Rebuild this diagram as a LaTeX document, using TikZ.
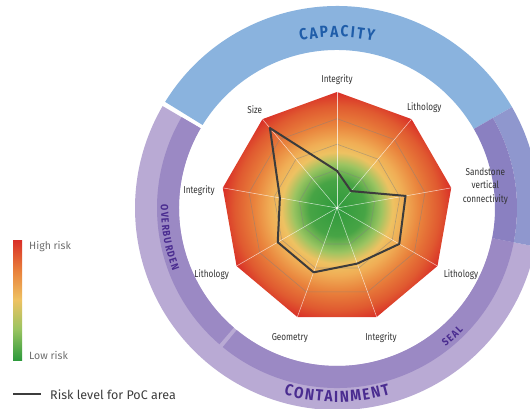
\documentclass[tikz,border=0pt]{standalone}
\usepackage{fontspec}
\usetikzlibrary{decorations.text}
\newfontfamily\axisfont[FakeStretch=0.82]{Fira Sans}
\newfontfamily\ringfont[FakeStretch=0.86]{Fira Sans}
\newfontfamily\keyfont{Fira Sans}
\definecolor{capblue}{HTML}{8AB3DE}
\definecolor{captext}{HTML}{1F5DA9}
\definecolor{lightlilac}{HTML}{B9AAD4}
\definecolor{darklilac}{HTML}{9B89C4}
\definecolor{mixouter}{HTML}{8F97CE}
\definecolor{mixinner}{HTML}{8A80C1}
\definecolor{lilactext}{HTML}{4A2C90}
\definecolor{riskgreen}{HTML}{2E9A3C}
\definecolor{riskgreenb}{HTML}{47A445}
\definecolor{riskolive}{HTML}{9BC461}
\definecolor{riskyellow}{HTML}{EEC262}
\definecolor{riskamber}{HTML}{F0AD55}
\definecolor{riskorange}{HTML}{E9823C}
\definecolor{riskdeep}{HTML}{E05A30}
\definecolor{riskred}{HTML}{D92E27}
\definecolor{labelgray}{HTML}{333333}
\definecolor{keygray}{HTML}{6E6E6E}
\definecolor{linegray}{HTML}{3C3C3C}

\pgfdeclareradialshading{riskfield}{\pgfpointorigin}{%
  color(0bp)=(riskgreen); color(6bp)=(riskgreenb); color(9.5bp)=(riskolive);
  color(12bp)=(riskyellow); color(14.5bp)=(riskamber); color(18bp)=(riskorange);
  color(22bp)=(riskdeep); color(25bp)=(riskred); color(50bp)=(riskred)}
\pgfdeclareverticalshading{riskbar}{100bp}{%
  color(0bp)=(riskgreen); color(25bp)=(riskgreen); color(38bp)=(riskolive);
  color(50bp)=(riskyellow); color(62bp)=(riskorange); color(75bp)=(riskred);
  color(100bp)=(riskred)}

% annular sector: colour, start, end, inner radius, outer radius
\newcommand\ringpart[5]{%
  \fill[#1] (#2:#4) arc[start angle=#2, end angle=#3, radius=#4]
    -- (#3:#5) arc[start angle=#3, end angle=#2, radius=#5] -- cycle;}

\begin{document}
\begin{tikzpicture}
      [x = 1pt, y = 1pt,
      axislabel/.style= {
         font = \axisfont\fontsize{10}{13.5}\selectfont,
         text = labelgray,
         align = center,
         inner sep = 0pt
      },
      keylabel/.style= {
         font = \keyfont\fontsize{10.5}{12}\selectfont,
         text = keygray,
         anchor = west,
         inner sep = 0pt
      },
      gridline/.style= {gray, opacity = 0.5, line width = 0.6pt},
      spoke/.style= {white, opacity = 0.7, line width = 0.5pt},
      riskline/.style= {linegray, line width = 2pt, line join = round}]
      \useasboundingbox (0, 0) rectangle (530, -409);
      \clip (0, 0) rectangle (530, -409);

      \pgfmathsetmacro{\R}{116}

      \begin{scope}[shift = {(337, -208)}]
         % outer rings
         \ringpart{capblue}{30}{148.3}{158}{202}
         \ringpart{lightlilac}{149.7}{349}{158}{202}
         \ringpart{darklilac}{149.7}{229.2}{158}{180}
         \ringpart{darklilac}{230.6}{349}{158}{180}
         \ringpart{mixouter}{-11}{30}{180}{202}
         \ringpart{mixinner}{-11}{30}{158}{180}

         \path[decorate, decoration = {text along path, text align = center,
            text color = captext,
            text = {|\ringfont\bfseries\fontsize{16}{16}\selectfont|{C\kern2pt}{A\kern2pt}{P\kern2pt}{A\kern2pt}{C\kern2pt}{I\kern2pt}{T\kern2pt}Y}}]
            (130:171) arc[start angle = 130, end angle = 50, radius = 171];
         \path[decorate, decoration = {text along path, text align = center,
            text color = lilactext,
            text = {|\ringfont\bfseries\fontsize{16}{16}\selectfont|{C\kern1.8pt}{O\kern1.8pt}{N\kern1.8pt}{T\kern1.8pt}{A\kern1.8pt}{I\kern1.8pt}{N\kern1.8pt}{M\kern1.8pt}{E\kern1.8pt}{N\kern1.8pt}T}}]
            (245:194) arc[start angle = 245, end angle = 295, radius = 194];
         \path[decorate, decoration = {text along path, text align = center,
            text color = lilactext,
            text = {|\ringfont\bfseries\fontsize{10.5}{12}\selectfont|{O\kern1.4pt}{V\kern1.4pt}{E\kern1.4pt}{R\kern1.4pt}{B\kern1.4pt}{U\kern1.4pt}{R\kern1.4pt}{D\kern1.4pt}{E\kern1.4pt}N}}]
            (160:176) arc[start angle = 160, end angle = 220, radius = 176];
         \path[decorate, decoration = {text along path, text align = center,
            text color = lilactext,
            text = {|\ringfont\bfseries\fontsize{10.5}{12}\selectfont|{S\kern1.4pt}{E\kern1.4pt}{A\kern1.4pt}L}}]
            (-78:176) arc[start angle = -78, end angle = -18, radius = 176];

         % risk field
         \begin{scope}
            \clip (90:\R) \foreach \a in {50,10,...,-230} { -- (\a:\R) } -- cycle;
            \shade[shading = riskfield] (0, 0) circle (\R);
         \end{scope}
         \foreach \f in {0.33, 0.55, 0.77}
            \draw[gridline] (90:{\f*\R})
               \foreach \a in {50,10,...,-230} { -- (\a:{\f*\R}) } -- cycle;
         \foreach \a in {90,50,...,-230}
            \draw[spoke] (0, 0) -- (\a:\R);
         \fill[white] (0, 0) circle (1.2);

         \foreach \a/\v [count = \i] in {90/0.32, 50/0.19, 10/0.6, -30/0.62,
               -70/0.51, -110/0.59, -150/0.59, -190/0.5, -230/0.9}
            \coordinate (p\i) at (\a:{\v*\R});
         \draw[riskline] (p1) -- (p2) -- (p3) -- (p4) -- (p5) -- (p6)
            -- (p7) -- (p8) -- (p9) -- cycle;

         \foreach \a/\d/\t [count = \i] in {90/128/Integrity, 49/133/Lithology,
               8.5/150/{Sandstone\\vertical\\connectivity}, -28.4/141/Lithology,
               -71.3/137/Integrity, -110/138/Geometry, -152/142/Lithology,
               173/139/Integrity, 130/128/Size}
            \node[axislabel] (lab\i) at (\a:\d) {\t};
      \end{scope}

      % legend
      \shade[shading = riskbar] (13, -240) rectangle (22, -360);
      \node[keylabel] (high) at (29, -247) {High risk};
      \node[keylabel] (low) at (29, -355) {Low risk};
      \coordinate (k1) at (13, -394);
      \coordinate (k2) at (41, -394);
      \draw[linegray, line width = 2pt] (k1) -- (k2);
      \node[keylabel, font = \keyfont\fontsize{12.5}{14}\selectfont, text = linegray]
         (poc) at (50, -395) {Risk level for PoC area};

   \end{tikzpicture}
\end{document}
